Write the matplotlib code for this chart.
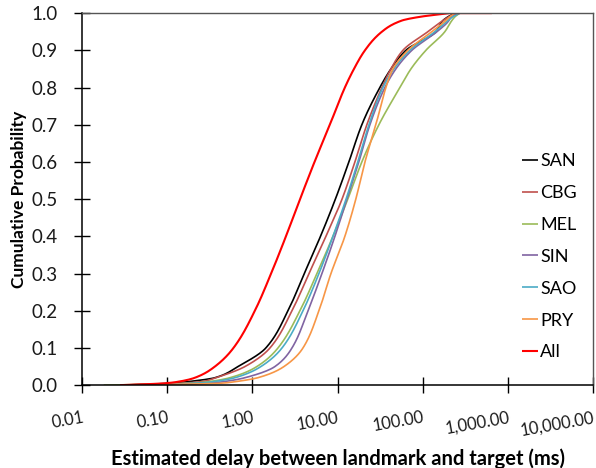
import numpy as np
import matplotlib
matplotlib.use("Agg")
import matplotlib.pyplot as plt

plt.rcParams['font.family'] = ['Lato', 'DejaVu Sans']

# --- data: delay (ms) at which each CDF reaches the given probability ---
cdf_levels = [0, 0.005, 0.01, 0.02, 0.05, 0.1, 0.2, 0.3, 0.4, 0.5, 0.6,
              0.7, 0.8, 0.85, 0.9, 0.95, 0.98, 0.99, 1.0]

san = [0.028, 0.108, 0.185, 0.364, 0.678, 1.44, 2.62, 4.07, 6.31, 9.44, 13.6,
       19.3, 31.4, 42.4, 63.5, 143, 173, 198, 239]
cbg = [0.028, 0.141, 0.263, 0.374, 0.819, 1.61, 2.92, 4.62, 7.31, 11.3, 16.0,
       22.1, 33.2, 42.4, 58.6, 115, 173, 203, 252]
mel = [0.018, 0.185, 0.318, 0.546, 1.13, 2.00, 3.62, 5.73, 8.84, 13.2, 19.3,
       30.6, 54.0, 72.8, 109, 182, 220, 239, 273]
sin = [0.028, 0.278, 0.477, 0.819, 1.84, 2.92, 4.50, 6.56, 9.32, 12.9, 17.8,
       24.0, 36.0, 48.4, 74.6, 147, 203, 214, 273]
sao = [0.028, 0.212, 0.364, 0.625, 1.26, 2.23, 3.93, 6.05, 8.84, 12.6, 17.3,
       23.4, 34.1, 45.9, 70.8, 139, 198, 226, 273]
pry = [0.028, 0.417, 0.66, 1.16, 2.35, 3.93, 6.05, 8.37, 12.2, 16.4, 21.0,
       28.2, 37.0, 44.7, 67.0, 128, 187, 208, 239]
all_ = [0.028, 0.094, 0.141, 0.212, 0.363, 0.60, 1.07, 1.66, 2.48, 3.63, 5.37,
        8.13, 12.2, 15.6, 21.0, 33.2, 57.0, 92.7, 208]

# largest observed delay (the CDF stays at 1.0 up to here)
max_delay = {"SAN": 500, "CBG": 500, "MEL": 500, "SIN": 500, "SAO": 1400,
             "PRY": 500, "All": 650}

series_names = ["SAN", "CBG", "MEL", "SIN", "SAO", "PRY", "All"]
series_data = [san, cbg, mel, sin, sao, pry, all_]
series_colors = ["#000000", "#C0504D", "#9BBB59", "#8064A2", "#4BACC6",
                 "#F79646", "#FF0000"]

xticks = [0.01, 0.1, 1, 10, 100, 1000, 10000]
xtick_labels = ["0.01", "0.10", "1.00", "10.00", "100.00", "1,000.00",
                "10,000.00"]
yticks = np.arange(0, 1.01, 0.1)


def pchip(x, y, xs):
    'monotone cubic (Fritsch-Carlson) interpolation, keeps the CDF smooth.'
    x = np.asarray(x, float)
    y = np.asarray(y, float)
    h = np.diff(x)
    d = np.diff(y) / h
    m = np.zeros_like(y)
    for k in range(1, len(x) - 1):
        if d[k - 1] * d[k] > 0:
            w1 = 2 * h[k] + h[k - 1]
            w2 = h[k] + 2 * h[k - 1]
            m[k] = (w1 + w2) / (w1 / d[k - 1] + w2 / d[k])
    m[0], m[-1] = d[0], d[-1]
    idx = np.clip(np.searchsorted(x, xs) - 1, 0, len(h) - 1)
    t = (xs - x[idx]) / h[idx]
    h00 = 2 * t**3 - 3 * t**2 + 1
    h10 = t**3 - 2 * t**2 + t
    h01 = -2 * t**3 + 3 * t**2
    h11 = t**3 - t**2
    return (h00 * y[idx] + h10 * h[idx] * m[idx] + h01 * y[idx + 1]
            + h11 * h[idx] * m[idx + 1])


# --- plot ---
fig = plt.figure(figsize=(5.96, 4.68), dpi=100)
ax = fig.add_axes([0.1376, 0.177, 0.8574, 0.795])

p_fine = np.linspace(0, 1, 600)
for name, vals, col in zip(series_names, series_data, series_colors):
    logx = pchip(cdf_levels, np.log10(vals), p_fine)
    xs = np.append(10 ** logx, max_delay[name])
    ps = np.append(p_fine, 1.0)
    lw = 1.5 if name == "All" else 1.2
    ax.plot(xs, ps, color=col, lw=lw, label=name, solid_capstyle="butt")

ax.set_xscale("log")
ax.set_xlim(0.01, 10000)
ax.set_ylim(0, 1.0)
ax.minorticks_off()

ax.set_yticks(yticks)
ax.set_yticklabels([f"{v:.1f}" for v in yticks], fontsize=13.5,
                   color="#1a1a1a")
ax.set_xticks(xticks)
ax.set_xticklabels(xtick_labels, fontsize=12, color="#1a1a1a", rotation=10,
                   ha="right", va="top", rotation_mode="anchor")
ax.tick_params(axis="both", direction="inout", length=11, width=1,
               color="black")
ax.tick_params(axis="x", pad=12)
ax.tick_params(axis="y", pad=12)

for side in ["left", "bottom"]:
    ax.spines[side].set_color("black")
    ax.spines[side].set_linewidth(1.1)
for side in ["top", "right"]:
    ax.spines[side].set_color("#555555")
    ax.spines[side].set_linewidth(1.0)

ax.set_xlabel("Estimated delay between landmark and target (ms)",
              fontsize=14.5, fontweight="bold", labelpad=7)
ax.set_ylabel("Cumulative Probability", fontsize=12.5, fontweight="bold",
              labelpad=3)

leg = ax.legend(loc="center right", bbox_to_anchor=(1.0, 0.345), frameon=False,
                fontsize=13, handlelength=0.9, handletextpad=0.1,
                labelspacing=0.88, borderaxespad=0.5)

fig.savefig("out.png", dpi=100)
